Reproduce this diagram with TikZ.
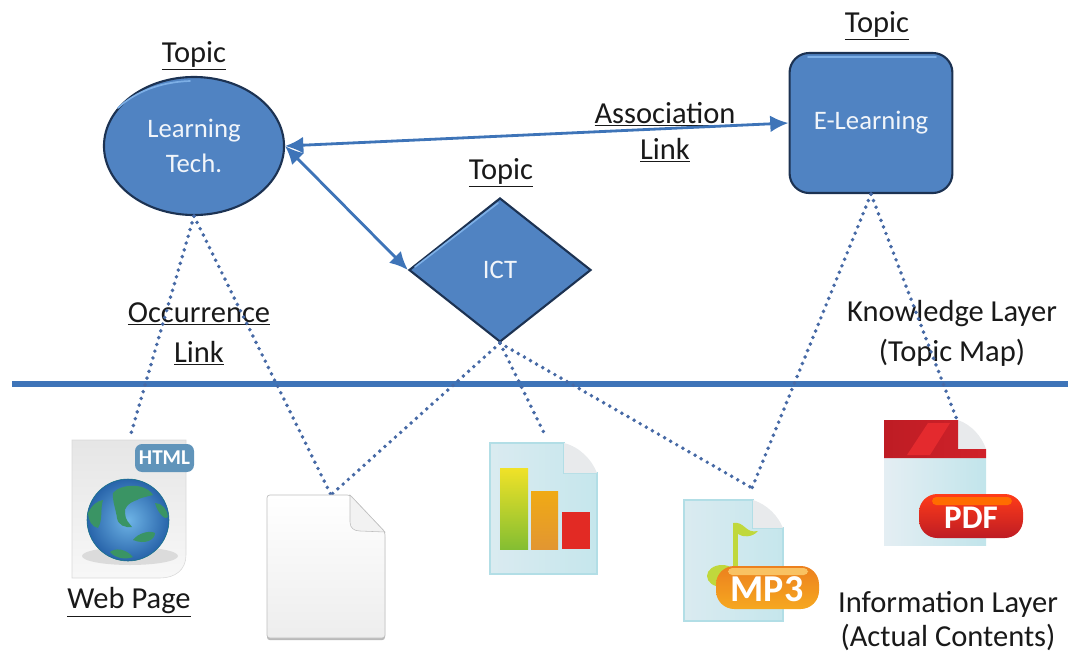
\documentclass[tikz,border=0pt]{standalone}
\usepackage{fontspec}
\setmainfont{Carlito}
\usetikzlibrary{arrows.meta,shapes.geometric,shadows}
\definecolor{tmblue}{RGB}{80,131,194}
\definecolor{tmedge}{RGB}{28,50,82}
\definecolor{tmlight}{RGB}{125,175,230}
\definecolor{tmline}{RGB}{62,116,184}
\definecolor{tmdots}{RGB}{70,105,165}
\definecolor{pagecyan}{RGB}{178,222,230}
\definecolor{pagepale}{RGB}{228,238,243}
\definecolor{pagefold}{RGB}{232,234,236}
\definecolor{pdfred}{RGB}{190,28,36}
\definecolor{pdfmid}{RGB}{208,34,42}
\definecolor{pdflight}{RGB}{228,42,46}
\definecolor{mporange}{RGB}{236,128,30}
\definecolor{mpyellow}{RGB}{246,168,32}
\definecolor{htmlblue}{RGB}{96,148,186}
\definecolor{notegreen}{RGB}{192,216,60}
\definecolor{landgreen}{RGB}{58,148,100}
\definecolor{globelight}{RGB}{110,180,230}
\definecolor{globedark}{RGB}{40,100,170}
\definecolor{baryellow}{RGB}{240,226,40}
\definecolor{bargreen}{RGB}{132,190,50}
\definecolor{barorange}{RGB}{240,170,20}
\definecolor{barochre}{RGB}{226,150,50}
\definecolor{barred}{RGB}{226,42,36}
\tikzset{
  x=0.025cm,y=-0.025cm,
  every node/.style={font=\fontsize{21.7}{26}\selectfont,text=black!90},
  topic/.style={draw=tmedge,line width=1.5pt,fill=tmblue,inner sep=0pt,font=\fontsize{19}{25}\selectfont,text=white!92!tmblue,align=center},
  bevel/.style={draw=tmlight,line width=1.2pt,line cap=round},
  arrow/.style={draw=tmline,line width=2pt,{Latex[length=13pt,width=12pt]}-{Latex[length=13pt,width=12pt]}},
  occlink/.style={draw=tmdots,line width=2.8pt,line cap=round,dash pattern=on 0pt off 5pt},
  land/.style={fill=landgreen},
  pagesheet/.style={draw=pagecyan,line width=1.8pt,left color=pagepale!80!pagecyan,right color=pagecyan!75!white},
  badgetext/.style={font=\fontsize{#1}{#1}\selectfont\bfseries,text=white,inner sep=0pt}
}
\begin{document}
\begin{tikzpicture}
\useasboundingbox (0,0) rectangle (1068,653);
% Topic nodes
\node (learning) [topic,ellipse,minimum width=4.5cm,minimum height=3.45cm] at (194,146) {Learning\\Tech.};
\node (ict) [topic,diamond,minimum width=4.55cm,minimum height=3.6cm] at (500,270) {ICT};
\node (elearning) [topic,rectangle,rounded corners=14pt,minimum width=4.07cm,minimum height=3.5cm] at (871,123) {E-Learning};

% Bevel highlights
\draw[bevel] (118,108) .. controls (135,92) and (160,82) .. (190,81);
\draw[bevel] (415,267) -- (498,203);
\draw[bevel] (808,57) -- (936,57);

% Layer line
\draw[tmline,line width=4pt] (12,384) -- (1068,384);

% Text labels
\node (topicA) at (194,56) {\underline{Topic}};
\node (topicB) at (501,173) {\underline{Topic}};
\node (topicC) at (877,26) {\underline{Topic}};
\node (assoc) at (665,114) {\underline{Association}};
\node (assocb) at (665,150) {\underline{Link}};
\node (occur) at (199,314) {\underline{Occurrence}};
\node (occurb) at (199,353) {\underline{Link}};
\node (know) at (952,314) {Knowledge Layer};
\node (knowb) at (952,353) {(Topic Map)};
\node (info) at (948,604) {Information Layer};
\node (infob) [inner sep=0pt] at (948,637) {(Actual Contents)};
\node (web) at (129,602) {\underline{Web Page}};

% Icon anchors
\coordinate (htmltop) at (130,437);
\coordinate (blanktop) at (331,495);
\coordinate (charttop) at (545,435);
\coordinate (mptop) at (752,488);
\coordinate (pdftop) at (957,420);

% Associations
\draw[arrow] (learning.east) -- (elearning.west);
\draw[arrow] (learning.east) -- (ict.west);

% Occurrences
\draw[occlink] (learning.south) -- (htmltop);
\draw[occlink] (learning.south) -- (blanktop);
\draw[occlink] (ict.south) -- (blanktop);
\draw[occlink] (ict.south) -- (charttop);
\draw[occlink] (ict.south) -- (mptop);
\draw[occlink] (elearning.south) -- (mptop);
\draw[occlink] (elearning.south) -- (pdftop);

% HTML page
\shadedraw[draw=black!15,top color=black!10,bottom color=black!3] (72,440) -- (186,440) -- (186,555) .. controls (186,570) and (175,578) .. (160,578) -- (72,578) -- cycle;
\fill[black!14] (130,556) ellipse (48 and 9);
\shade[inner color=globelight,outer color=globedark,draw=tmedge!70!cyan] (128,520) circle (41);
\fill[land] (113,493) .. controls (120,484) and (145,482) .. (153,495) .. controls (145,497) and (140,498) .. (137,500) .. controls (128,503) and (124,508) .. (125,513) .. controls (125,520) and (130,524) .. (132,527) .. controls (125,528) and (118,525) .. (117,518) .. controls (116,510) and (112,500) .. (113,493) -- cycle;
\fill[land] (88,513) .. controls (92,505) and (97,501) .. (103,500) .. controls (100,510) and (103,520) .. (98,528) .. controls (92,527) and (88,520) .. (88,513) -- cycle;
\fill[land] (155,503) .. controls (162,503) and (168,510) .. (168,517) .. controls (166,521) and (158,514) .. (155,503) -- cycle;
\fill[land] (133,540) .. controls (138,533) and (150,530) .. (155,533) .. controls (155,540) and (145,545) .. (133,540) -- cycle;
\fill[land] (110,552) .. controls (115,548) and (125,548) .. (133,557) .. controls (125,560) and (115,558) .. (110,552) -- cycle;
\fill[htmlblue,rounded corners=5pt] (135,444) rectangle (194,472);
\node (htmlbadge) [badgetext=15] at (164.5,458) {HTML};

% Blank page
\shadedraw[draw=black!25,line width=0.5pt,top color=white,bottom color=black!7,rounded corners=2pt,drop shadow={shadow xshift=0pt,shadow yshift=-1.5pt,fill=black!55}] (267,495) -- (350,495) -- (385,532) -- (385,638) -- (267,638) -- cycle;
\filldraw[draw=black!25,fill=black!5] (350,495) -- (350,522) .. controls (350,528) and (354,531) .. (360,531) -- (385,532) -- cycle;

% Chart page
\shadedraw[pagesheet] (490,443) -- (564,443) -- (564,473) -- (597,473) -- (597,574) -- (490,574) -- cycle;
\fill[pagefold] (564,443) .. controls (580,447) and (592,460) .. (597,473) -- (564,473) -- cycle;
\shade[top color=baryellow,bottom color=bargreen] (500,468) rectangle (528,549);
\shade[top color=barorange,bottom color=barochre] (531,491) rectangle (558,549);
\fill[barred] (562,512) rectangle (590,549);

% MP3 page
\shadedraw[pagesheet] (684,500) -- (753,500) -- (753,528) -- (783,528) -- (783,621) -- (684,621) -- cycle;
\fill[pagefold] (753,500) .. controls (768,505) and (778,516) .. (783,528) -- (753,528) -- cycle;
\fill[notegreen] (733,523) rectangle (738,570);
\fill[notegreen] (733,523) .. controls (745,521) and (745,534) .. (758,531) .. controls (752,538) and (742,537) .. (738,534) -- cycle;
\fill[notegreen] (722,576) ellipse (15 and 11);
\shade[top color=mporange,bottom color=mpyellow,rounded corners=13pt] (716,566) rectangle (819,609);
\fill[mpyellow!70!white,rounded corners=3pt] (728,568) rectangle (808,575);
\node (mpbadge) [badgetext=27] at (767,589) {MP3};

% PDF page
\shade[left color=pagepale,right color=pagecyan!80!white] (884,458) rectangle (986,545);
\fill[pagefold] (958,420) .. controls (972,425) and (982,437) .. (986,449) -- (958,449) -- cycle;
\shade[left color=pdfred,right color=pdfmid] (884,420) -- (958,420) -- (958,449) -- (986,449) -- (986,458) -- (884,458) -- cycle;
\fill[pdflight] (907,455) -- (928,423) -- (950,423) -- (930,455) -- cycle;
\shade[top color=red!70!orange!90!white,bottom color=pdfred,rounded corners=13pt] (919,494) rectangle (1023,538);
\fill[orange!85!red,rounded corners=3pt] (932,497) rectangle (1012,505);
\node (pdfbadge) [badgetext=23.5] at (971,518) {PDF};
\end{tikzpicture}
\end{document}
